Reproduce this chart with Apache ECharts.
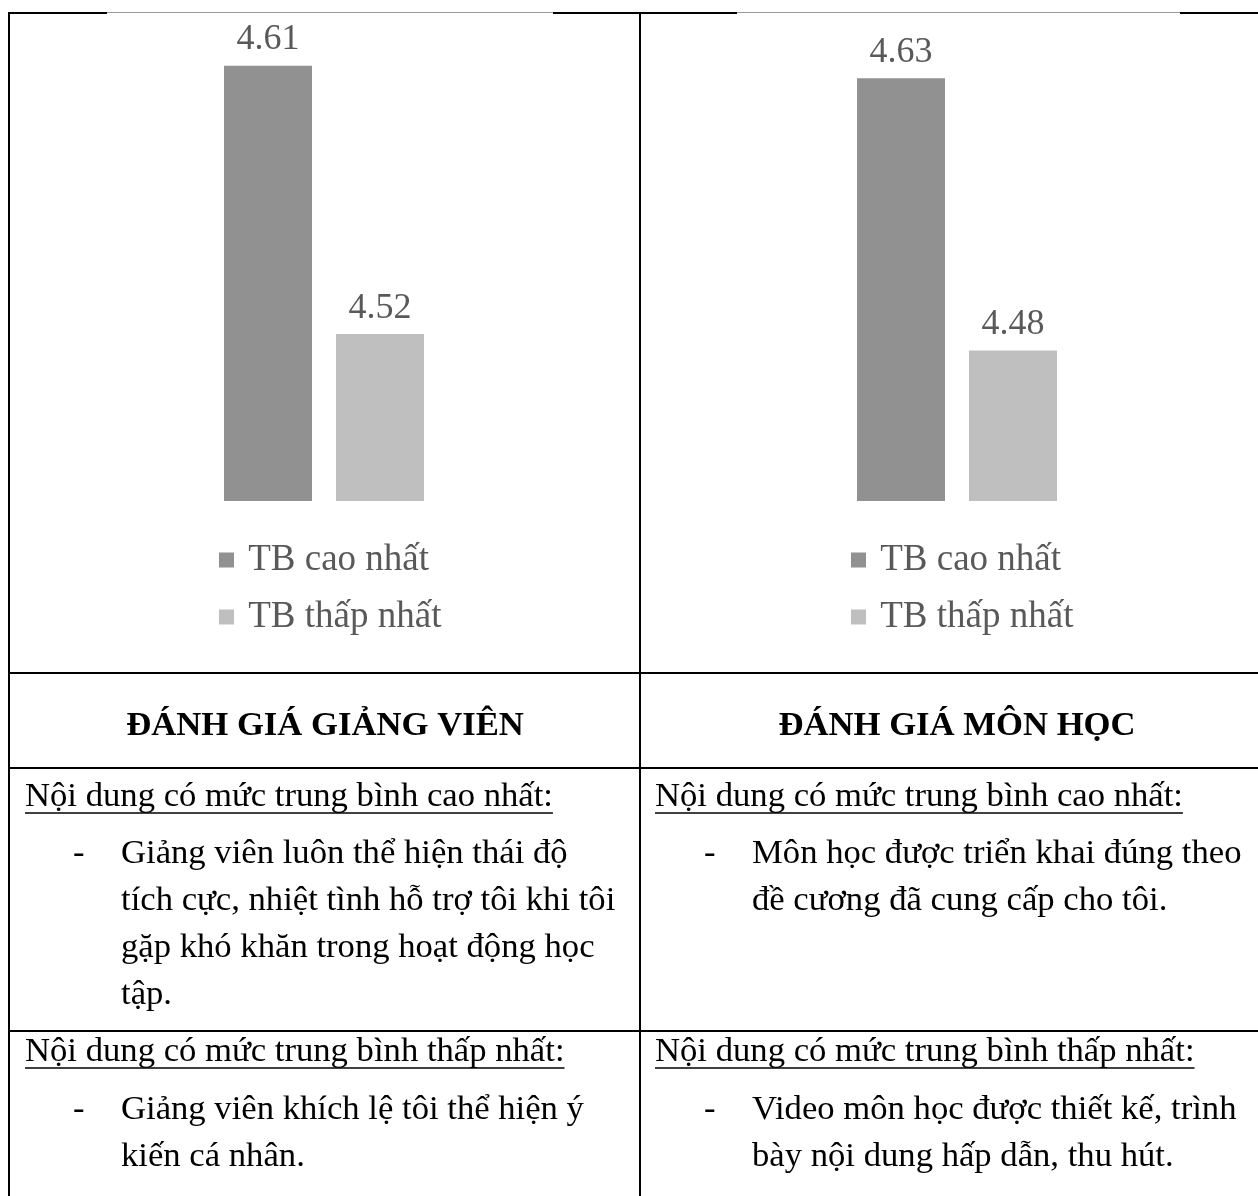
<!DOCTYPE html>
<html><head><meta charset="utf-8">
<script src="https://cdn.jsdelivr.net/npm/echarts@6/dist/echarts.min.js"></script>
<style>html,body{margin:0;padding:0;background:#fff}#c{width:1258px;height:1196px}</style>
</head><body><div id="c"></div>
<script>
// ---- data ----
const seriesNames = ['TB cao nhất', 'TB thấp nhất'];
const giangVienValues = [4.61, 4.52];
const monHocValues = [4.63, 4.48];
const panelTitles = ['ĐÁNH GIÁ GIẢNG VIÊN', 'ĐÁNH GIÁ MÔN HỌC'];
const highestHeading = 'Nội dung có mức trung bình cao nhất:';
const lowestHeading = 'Nội dung có mức trung bình thấp nhất:';
const giangVienHighest = ['Giảng viên luôn thể hiện thái độ', 'tích cực, nhiệt tình hỗ trợ tôi khi tôi', 'gặp khó khăn trong hoạt động học', 'tập.'];
const giangVienLowest = ['Giảng viên khích lệ tôi thể hiện ý', 'kiến cá nhân.'];
const monHocHighest = ['Môn học được triển khai đúng theo', 'đề cương đã cung cấp cho tôi.'];
const monHocLowest = ['Video môn học được thiết kế, trình', 'bày nội dung hấp dẫn, thu hút.'];

// ---- style / layout ----
const SERIF = '"Liberation Serif", "Times New Roman", serif';
const colors = ['#919191', '#bfbfbf'];
const labelColor = '#595959';
const bodyFont = '34.67px ' + SERIF;
const boldFont = 'bold 34.67px ' + SERIF;

const chart = echarts.init(document.getElementById('c'), null, {renderer: 'canvas'});

const mctx = document.createElement('canvas').getContext('2d');
function textWidth(t, f) { mctx.font = f; return mctx.measureText(t).width; }

const graphics = [];
function hline(y, x1, x2, w, c) { graphics.push({type: 'line', silent: true, shape: {x1: x1, y1: y, x2: x2, y2: y}, style: {stroke: c || '#000', lineWidth: w || 2}}); }
function vline(x, y1, y2, w) { graphics.push({type: 'line', silent: true, shape: {x1: x, y1: y1, x2: x, y2: y2}, style: {stroke: '#000', lineWidth: w || 2}}); }
function txt(t, x, y, f, align) { graphics.push({type: 'text', silent: true, x: x, y: y, style: {text: t, font: f, fill: '#000', textAlign: align || 'left', textVerticalAlign: 'middle'}}); }

// table borders
hline(13, 8, 107);
hline(13, 553, 737);
hline(13, 1180, 1258);
hline(12.5, 107, 553, 1, '#9a9a9a');
hline(12.5, 737, 1180, 1, '#9a9a9a');
vline(9, 12, 1196);
vline(640, 12, 1196);
hline(673, 8, 1258);
hline(768, 8, 1258);
hline(1031, 8, 1258);

// headers
txt(panelTitles[0], 325, 726, boldFont, 'center');
txt(panelTitles[1], 957, 726, boldFont, 'center');

function block(heading, lines, xh, xb, xt, yh, yl) {
  txt(heading, xh, yh, bodyFont);
  const w = textWidth(heading, bodyFont);
  hline(yh + 16, xh, xh + w, 1.6);
  txt('-', xb, yl, bodyFont);
  lines.forEach(function (l, i) { txt(l, xt, yl + i * 47, bodyFont); });
}
block(highestHeading, giangVienHighest, 25, 73, 121, 797, 854);
block(lowestHeading, giangVienLowest, 25, 73, 121, 1052, 1110);
block(highestHeading, monHocHighest, 655, 704, 752, 797, 854);
block(lowestHeading, monHocLowest, 655, 704, 752, 1052, 1110);

function barSeries(name, value, idx, color) {
  return {
    type: 'bar', name: name, data: [value], xAxisIndex: idx, yAxisIndex: idx,
    barWidth: 88, barGap: '27.27%',
    itemStyle: {color: color},
    label: {show: true, position: 'top', distance: 8, fontFamily: SERIF, fontSize: 36, color: labelColor, formatter: function (p) { return p.value.toFixed(2); }},
    emphasis: {disabled: true}
  };
}

const legendStyle = {
  orient: 'vertical', icon: 'rect', itemWidth: 15, itemHeight: 15, itemGap: 17, padding: 0,
  selectedMode: false, data: seriesNames,
  formatter: function (n) { return ' ' + n; },
  textStyle: {fontFamily: SERIF, fontSize: 37, color: labelColor, lineHeight: 40}
};

chart.setOption({
  animation: false,
  backgroundColor: '#fff',
  grid: [
    {left: 124, width: 400, top: 36, height: 465},
    {left: 757, width: 400, top: 42, height: 459}
  ],
  xAxis: [
    {type: 'category', gridIndex: 0, data: ['Giảng viên'], show: false},
    {type: 'category', gridIndex: 1, data: ['Môn học'], show: false}
  ],
  yAxis: [
    {type: 'value', gridIndex: 0, min: 4.464, max: 4.62, show: false},
    {type: 'value', gridIndex: 1, min: 4.397, max: 4.65, show: false}
  ],
  legend: [
    Object.assign({left: 219, top: 540}, legendStyle),
    Object.assign({left: 851, top: 540}, legendStyle)
  ],
  series: [
    barSeries(seriesNames[0], giangVienValues[0], 0, colors[0]),
    barSeries(seriesNames[1], giangVienValues[1], 0, colors[1]),
    barSeries(seriesNames[0], monHocValues[0], 1, colors[0]),
    barSeries(seriesNames[1], monHocValues[1], 1, colors[1])
  ],
  graphic: graphics
});
</script></body></html>
